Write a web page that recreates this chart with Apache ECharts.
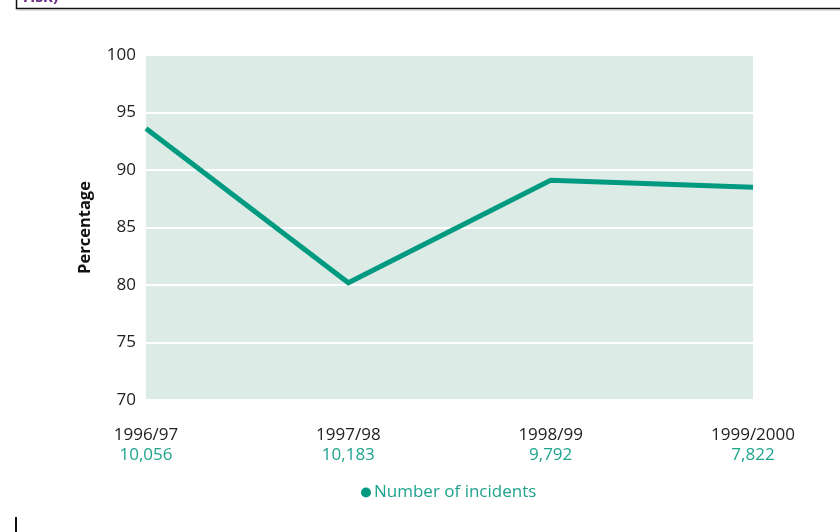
<!DOCTYPE html>
<html>
<head>
<meta charset="utf-8">
<script src="https://cdn.jsdelivr.net/npm/echarts@6/dist/echarts.min.js"></script>
<style>
  html, body { margin: 0; padding: 0; background: #ffffff; }
  #chart { width: 840px; height: 532px; }
</style>
</head>
<body>
<div id="chart"></div>
<script>
// Years and the count of incidents recorded in each
const years = ['1996/97', '1997/98', '1998/99', '1999/2000'];
const incidentCounts = ['10,056', '10,183', '9,792', '7,822'];
// Percentage values plotted for each year
const percentages = [93.6, 80.2, 89.1, 88.5];
const yTicks = { min: 70, max: 100, step: 5 };

const FONT = '"Open Sans", "Noto Sans", sans-serif';
const TEAL = '#009a80';
const TEAL_TEXT = '#1ea38d';

const chart = echarts.init(document.getElementById('chart'), null, { renderer: 'canvas' });

chart.setOption({
  animation: false,
  backgroundColor: '#ffffff',
  grid: { left: 146, right: 87, top: 55, bottom: 132, show: true, backgroundColor: '#dcebe5', borderWidth: 0 },
  legend: {
    bottom: 26,
    left: 356,
    itemWidth: 10,
    itemHeight: 10,
    itemGap: 4,
    icon: 'circle',
    textStyle: { fontFamily: FONT, fontSize: 17, color: TEAL_TEXT, padding: [0, 0, 0, -2] },
    data: [{ name: 'Number of incidents', itemStyle: { color: TEAL } }]
  },
  xAxis: {
    type: 'category',
    data: years,
    boundaryGap: false,
    axisLine: { show: false },
    axisTick: { show: false },
    axisLabel: {
      margin: 25,
      interval: 0,
      formatter: (v, i) => '{y|' + v + '}\n{n|' + incidentCounts[i] + '}',
      rich: {
        y: { fontFamily: FONT, fontSize: 17, color: '#222222', lineHeight: 20 },
        n: { fontFamily: FONT, fontSize: 17, color: TEAL_TEXT, lineHeight: 20 }
      }
    }
  },
  yAxis: {
    type: 'value',
    min: yTicks.min,
    max: yTicks.max,
    interval: yTicks.step,
    name: 'Percentage',
    nameLocation: 'middle',
    nameGap: 52,
    nameTextStyle: { fontFamily: FONT, fontSize: 16.5, fontWeight: 'bold', color: '#111111' },
    axisLine: { show: false },
    axisTick: { show: false },
    axisLabel: { margin: 10, fontFamily: FONT, fontSize: 17, color: '#222222' },
    splitLine: { show: true, lineStyle: { color: '#ffffff', width: 2 } }
  },
  series: [{
    name: 'Number of incidents',
    type: 'line',
    data: percentages,
    symbol: 'none',
    lineStyle: { color: TEAL, width: 5, join: 'miter' },
    itemStyle: { color: TEAL }
  }],
  graphic: [
    // framed heading box running off the top edge
    { type: 'rect', shape: { x: 16.5, y: -20, width: 840, height: 28.5 },
      style: { fill: '#ffffff', stroke: '#111111', lineWidth: 1.5 } },
    { type: 'line', shape: { x1: 17, y1: 10, x2: 840, y2: 10 },
      style: { stroke: '#bbbbbb', lineWidth: 1 } },
    { type: 'text', left: 23, top: -11,
      style: { text: 'risk)', fontFamily: FONT, fontSize: 16, fontWeight: 'bold', fill: '#6a2c86' } },
    // short rule at the lower left
    { type: 'rect', shape: { x: 15, y: 517, width: 2, height: 16 }, style: { fill: '#111111' } }
  ]
});
</script>
</body>
</html>
